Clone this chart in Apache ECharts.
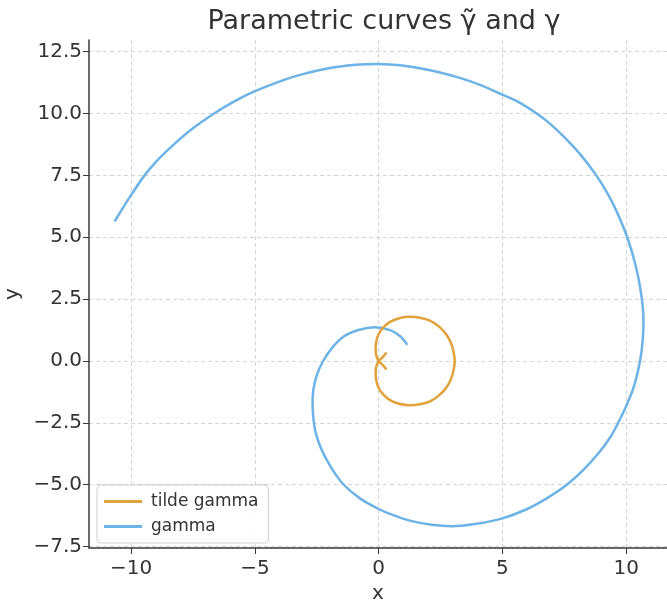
<!DOCTYPE html>
<html>
<head>
<meta charset="utf-8">
<script src="https://cdn.jsdelivr.net/npm/echarts@6/dist/echarts.min.js"></script>
<style>
  html, body { margin: 0; padding: 0; background: #fff; }
  #chart { width: 667px; height: 601px; }
</style>
</head>
<body>
<div id="chart"></div>
<script>
// values
const gammaX = [-10.65, -10.34, -10.0, -9.47, -8.97, -8.36, -7.56, -6.68, -5.87, -5.0, -3.99, -3.1, -2.37, -1.56, -0.76, 0, 0.86, 1.67, 2.48, 3.28, 4.09, 5.0, 5.71, 6.37, 6.87, 7.53, 8.13, 8.78, 9.28, 9.68, 10.05, 10.36, 10.56, 10.67, 10.7, 10.67, 10.56, 10.31, 9.99, 9.7, 9.37, 8.88, 8.27, 7.6, 6.79, 5.98, 5.0, 4.09, 3.15, 2.21, 1.26, 0.46, 0, -0.76, -1.43, -1.9, -2.3, -2.57, -2.67, -2.64, -2.5, -2.26, -1.9, -1.43, -0.82, -0.15, 0.46, 0.86, 1.13]
const gammaY = [5.67, 6.18, 6.71, 7.49, 8.08, 8.67, 9.36, 9.98, 10.47, 10.9, 11.3, 11.58, 11.76, 11.9, 11.98, 12.0, 11.95, 11.83, 11.66, 11.44, 11.16, 10.76, 10.43, 10.01, 9.63, 9.02, 8.37, 7.52, 6.71, 5.9, 4.98, 3.95, 3.0, 2.2, 1.6, 0.85, 0.0, -1.04, -1.85, -2.45, -3.06, -3.73, -4.4, -5.0, -5.55, -5.99, -6.36, -6.56, -6.67, -6.63, -6.45, -6.18, -5.98, -5.55, -4.98, -4.34, -3.6, -2.79, -1.85, -1.17, -0.57, -0.03, 0.51, 0.98, 1.25, 1.36, 1.25, 1.01, 0.69]

const tildeX = [0.29, 0.15, 0, -0.08, -0.12, -0.11, -0.02, 0.19, 0.46, 0.86, 1.26, 1.67, 2.07, 2.44, 2.75, 2.95, 3.05, 3.07, 3.05, 2.95, 2.75, 2.44, 2.07, 1.67, 1.26, 0.86, 0.46, 0.19, -0.02, -0.11, -0.12, -0.08, 0, 0.15, 0.29]
const tildeY = [-0.31, -0.15, 0, 0.17, 0.38, 0.71, 1.05, 1.36, 1.58, 1.74, 1.79, 1.75, 1.63, 1.39, 1.05, 0.65, 0.24, 0, -0.24, -0.65, -1.05, -1.39, -1.63, -1.75, -1.79, -1.74, -1.58, -1.36, -1.05, -0.71, -0.38, -0.17, 0, 0.15, 0.31]

const xTicks = [-10, -5, 0, 5, 10]
const yTicks = [-7.5, -5, -2.5, 0, 2.5, 5, 7.5, 10, 12.5]

const pairs = (xs, ys) => xs.map((x, i) => [x, ys[i]])
const minus = (s) => s.replace('-', '\u2212')

const textColor = '#333'
const lineColor = '#3a3a3a'
const gridStyle = { color: '#d4d4d4', type: [4, 3], width: 1 }

// draws the whole curve once, as a catmull-rom path through the data points
const curveRenderer = (points, color) => (params, api) => {
    if (params.dataIndex !== 0) return null
    const p = points.map((d) => api.coord(d))
    let path = 'M' + p[0][0] + ' ' + p[0][1]
    for (let i = 0; i < p.length - 1; i++) {
        const p0 = p[Math.max(i - 1, 0)]
        const p1 = p[i]
        const p2 = p[i + 1]
        const p3 = p[Math.min(i + 2, p.length - 1)]
        const c1 = [p1[0] + (p2[0] - p0[0]) / 6, p1[1] + (p2[1] - p0[1]) / 6]
        const c2 = [p2[0] - (p3[0] - p1[0]) / 6, p2[1] - (p3[1] - p1[1]) / 6]
        path += ' C' + c1.join(' ') + ' ' + c2.join(' ') + ' ' + p2.join(' ')
    }
    return {
        type: 'path',
        shape: { pathData: path },
        style: { fill: null, stroke: color, lineWidth: 2.5, lineCap: 'round', lineJoin: 'round' }
    }
}

const tildeColor = '#E2A23B'
const gammaColor = '#6DB3E5'
const tildePoints = pairs(tildeX, tildeY)
const gammaPoints = pairs(gammaX, gammaY)

const chart = echarts.init(document.getElementById('chart'), null, { renderer: 'canvas' })

chart.setOption({
    animation: false,
    backgroundColor: '#fff',
    textStyle: { fontFamily: 'DejaVu Sans' },
    title: {
        text: 'Parametric curves \u03b3\u0303 and \u03b3',
        left: 379,
        textAlign: 'center',
        top: 3,
        textStyle: { fontSize: 27, fontWeight: 'normal', color: textColor, fontFamily: 'DejaVu Sans' }
    },
    legend: {
        orient: 'vertical',
        left: 97,
        top: 485,
        padding: [8, 10, 8, 7],
        itemGap: 8,
        itemWidth: 38,
        itemHeight: 3,
        icon: 'rect',
        backgroundColor: 'rgba(255,255,255,0.85)',
        borderColor: '#d0d0d0',
        borderWidth: 1,
        borderRadius: 4,
        textStyle: { fontSize: 17, color: textColor, fontFamily: 'DejaVu Sans', padding: [0, 0, 0, 4] },
        data: ['tilde gamma', 'gamma']
    },
    grid: { left: 89, right: 0, top: 40, bottom: 53, containLabel: false, outerBoundsMode: 'none' },
    xAxis: {
        type: 'value',
        min: -11.705,
        max: 11.65,
        name: 'x',
        nameLocation: 'middle',
        nameGap: 35,
        nameTextStyle: { fontSize: 20, color: textColor },
        axisLine: { onZero: false, lineStyle: { color: lineColor, width: 1.5 } },
        axisTick: { customValues: xTicks, length: 6, lineStyle: { color: lineColor } },
        axisLabel: {
            customValues: xTicks,
            fontSize: 20,
            color: textColor,
            margin: 11,
            formatter: (v) => minus(String(v))
        },
        splitLine: { show: true, lineStyle: gridStyle }
    },
    yAxis: {
        type: 'value',
        min: -7.556,
        max: 12.97,
        name: 'y',
        nameLocation: 'middle',
        nameGap: 64,
        nameTextStyle: { fontSize: 20, color: textColor },
        axisLine: { onZero: false, lineStyle: { color: lineColor, width: 1.5 } },
        axisTick: { customValues: yTicks, length: 6, lineStyle: { color: lineColor } },
        axisLabel: {
            customValues: yTicks,
            fontSize: 20,
            color: textColor,
            margin: 7,
            formatter: (v) => minus(v.toFixed(1))
        },
        splitLine: { show: true, lineStyle: gridStyle }
    },
    series: [
        {
            name: 'tilde gamma',
            type: 'custom',
            data: tildePoints,
            encode: { x: 0, y: 1 },
            itemStyle: { color: tildeColor },
            renderItem: curveRenderer(tildePoints, tildeColor),
            z: 3
        },
        {
            name: 'gamma',
            type: 'custom',
            data: gammaPoints,
            encode: { x: 0, y: 1 },
            itemStyle: { color: gammaColor },
            renderItem: curveRenderer(gammaPoints, gammaColor),
            z: 2
        }
    ]
})
</script>
</body>
</html>
